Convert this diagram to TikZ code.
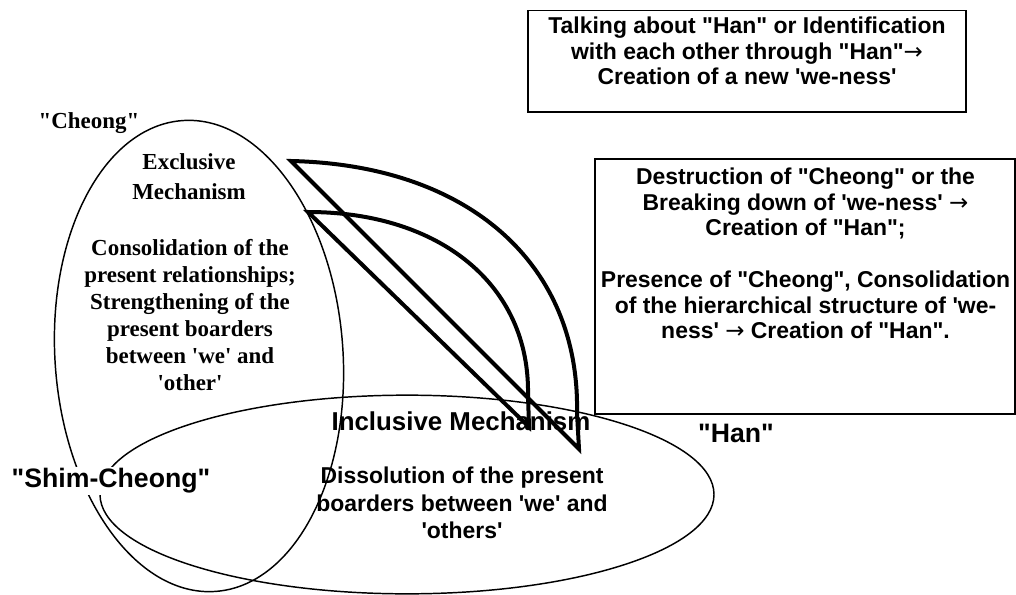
\documentclass[tikz,border=0pt]{standalone}
\usepackage{fontspec}
\setmainfont{Liberation Serif}
\setsansfont{Liberation Sans}
\newfontfamily\arrowfont{DejaVu Sans}
\usetikzlibrary{shapes.geometric,positioning}
\newcommand{\sq}{\textquotesingle}
\newcommand{\dq}{\textquotedbl}
\newcommand{\toarrow}{{\arrowfont\mdseries\fontsize{17.2}{17.2}\selectfont →}}

\begin{document}
\begin{tikzpicture}[x=0.75pt,y=-0.75pt,
   region/.style={draw,ellipse,line width=1.1pt,inner sep=0pt},
   fin/.style={draw,line width=3pt,line join=miter},
   box/.style={draw,line width=1.1pt,inner sep=0pt},
   sanstext/.style={font=\sffamily\bfseries\fontsize{17.2}{19.3}\selectfont,align=center},
   seriftext/.style={font=\rmfamily\bfseries\fontsize{17.2}{20.3}\selectfont,align=center}]
   \useasboundingbox (0,0) rectangle (1016,595);
   % the two mechanisms
   \node[region,minimum width=216pt,minimum height=354pt,rotate=4] (excl) at (199,356) {};
   \node[region,minimum width=460.5pt,minimum height=149pt] (incl) at (407,494.5) {};
   % the two curved fins
   \coordinate (a1) at (291,161);
   \coordinate (a2) at (577,413);
   \coordinate (a3) at (579,449);
   \draw[fin] (a1) .. controls (470,165) and (580,265) .. (a2) -- (a3) -- cycle;
   \coordinate (b1) at (308,212);
   \coordinate (b2) at (528,395);
   \coordinate (b3) at (529,427);
   \draw[fin] (b1) .. controls (440,212) and (530,285) .. (b2) -- (b3) -- cycle;
   % labels of the exclusive side
   \node[seriftext] (cheong) at (89,123) {\dq Cheong\dq};
   \node[seriftext,font=\rmfamily\bfseries\fontsize{17.2}{22.5}\selectfont] (exhead) at (189,177) {Exclusive\\Mechanism};
   \node[seriftext] (exbody) at (190,315) {Consolidation of the\\present relationships;\\Strengthening of the\\present boarders\\between \sq we\sq{} and\\\sq other\sq};
   \node[sanstext,font=\sffamily\bfseries\fontsize{20}{20}\selectfont,fill=white,inner sep=1pt] (shim) at (111,481) {\dq Shim-Cheong\dq};
   % labels of the inclusive side
   \node[sanstext,font=\sffamily\bfseries\fontsize{19.4}{20}\selectfont] (inhead) at (461,421) {Inclusive Mechanism};
   \node[sanstext,font=\sffamily\bfseries\fontsize{17.2}{20.6}\selectfont] (inbody) at (462,503) {Dissolution of the present\\boarders between \sq we\sq{} and\\\sq others\sq};
   \node[sanstext,font=\sffamily\bfseries\fontsize{20}{20}\selectfont] (han) at (736,433) {\dq Han\dq};
   % the two boxes
   \node[box,minimum width=328.5pt,minimum height=76.1pt] (talkbox) at (747,61.25) {};
   \node[sanstext] (talk) at (747,51) {Talking about \dq Han\dq{} or Identification\\with each other through \dq Han\dq\toarrow\\Creation of a new \sq we-ness\sq};
   \node[box,minimum width=315pt,minimum height=191pt] (hanbox) at (805,286.5) {};
   \node[sanstext] (hantext) at (805.5,253.5) {Destruction of \dq Cheong\dq{} or the\\Breaking down of \sq we-ness\sq{} \toarrow\\Creation of \dq Han\dq;\\[19.3pt]Presence of \dq Cheong\dq, Consolidation\\of the hierarchical structure of \sq we-\\ness\sq{} \toarrow{} Creation of \dq Han\dq.};
\end{tikzpicture}
\end{document}
